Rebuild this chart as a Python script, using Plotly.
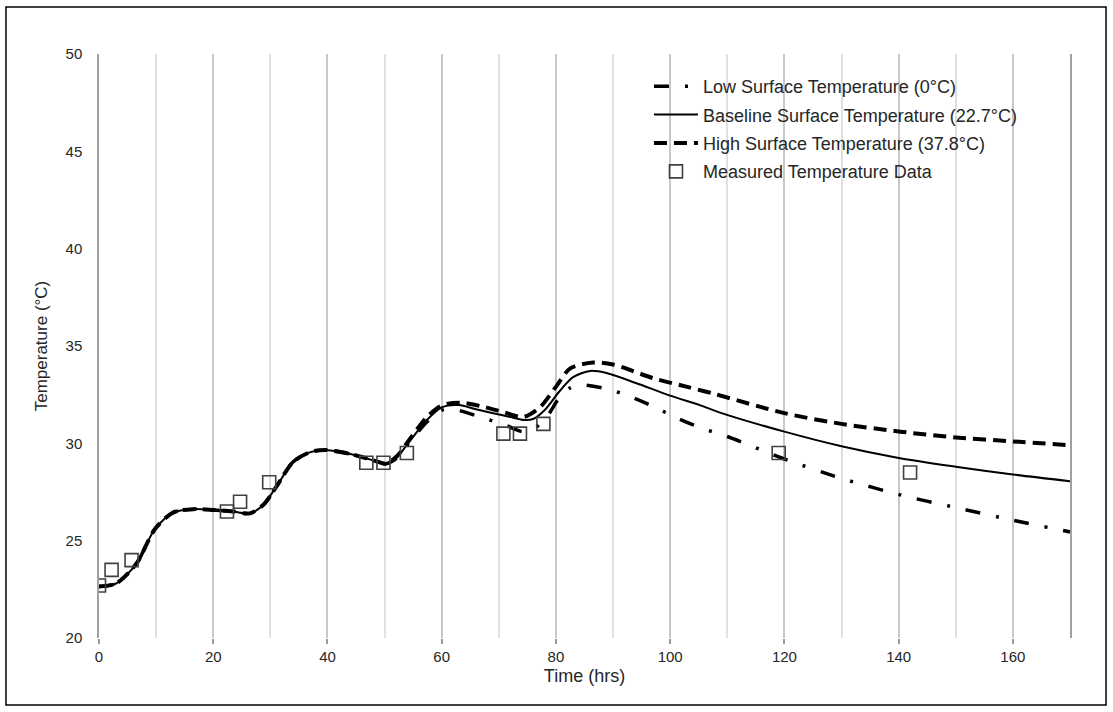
import plotly.graph_objects as go

# Simulated temperature histories (time in hrs, temperature in °C)
low_t = [0, 3, 6.5, 9.8, 13, 16.5, 20, 23.5, 26.4, 28.8, 31, 34, 37, 39.5, 43, 46, 48.5, 50.2,
         52.2, 54.5, 57.4, 60, 62, 67.3, 71.4, 74.3, 76.6, 78.5, 80.7, 82.5, 84.5, 88.9, 93, 97,
         101.2, 105.3, 110, 120.4, 130, 140.3, 150, 160, 170]
low_temp = [22.65, 22.8, 23.8, 25.6, 26.45, 26.62, 26.58, 26.5, 26.4, 26.85, 27.75, 29.05, 29.55,
            29.66, 29.52, 29.3, 29.08, 28.95, 29.25, 30.1, 31.1, 31.7, 31.75, 31.3, 30.9, 30.6,
            30.85, 31.4, 32.4, 32.85, 33.0, 32.8, 32.4, 31.9, 31.3, 30.8, 30.35, 29.15, 28.2,
            27.35, 26.7, 26.05, 25.45]

base_t = [0, 3, 6.5, 9.8, 13, 16.5, 20, 23.5, 26.4, 28.8, 31, 34, 37, 39.5, 43, 46, 48.5, 50.2,
          52.2, 54.5, 57.4, 60, 63, 66, 69, 72, 74.5, 76, 78, 80.7, 83, 86, 89, 94, 100, 105.3,
          109, 120, 130, 140, 150, 160, 170]
base_temp = [22.65, 22.8, 23.8, 25.6, 26.45, 26.62, 26.58, 26.5, 26.4, 26.85, 27.75, 29.05, 29.55,
             29.66, 29.52, 29.3, 29.08, 28.95, 29.3, 30.15, 31.2, 31.85, 31.97, 31.75, 31.55,
             31.35, 31.2, 31.25, 31.7, 32.7, 33.4, 33.72, 33.6, 33.1, 32.45, 31.95, 31.55, 30.6,
             29.85, 29.25, 28.8, 28.4, 28.05]

high_t = [0, 3, 6.5, 9.8, 13, 16.5, 20, 23.5, 26.4, 28.8, 31, 34, 37, 39.5, 43, 46, 48.5, 50.2,
          52.2, 54.5, 57.4, 60, 63.5, 67, 70.8, 74.3, 77.2, 80, 82.5, 86.5, 90, 97, 103, 107.6,
          120, 130, 140.3, 150, 160, 170]
high_temp = [22.65, 22.8, 23.8, 25.6, 26.45, 26.62, 26.58, 26.5, 26.4, 26.85, 27.75, 29.05, 29.55,
             29.66, 29.52, 29.3, 29.08, 28.95, 29.35, 30.25, 31.35, 31.95, 32.08, 31.9, 31.6,
             31.35, 31.85, 32.9, 33.85, 34.15, 34.05, 33.35, 32.9, 32.55, 31.55, 31.0, 30.6,
             30.3, 30.1, 29.9]

# Measured data
meas_t = [0, 2.2, 5.7, 22.4, 24.7, 29.8, 46.8, 49.8, 53.9, 70.8, 73.7, 77.8, 119, 142]
meas_temp = [22.7, 23.5, 24.0, 26.5, 27.0, 28.0, 29.0, 29.0, 29.5, 30.5, 30.5, 31.0, 29.5, 28.5]

FONT = "Liberation Sans, Arial, sans-serif"
TXT = "#262626"

fig = go.Figure()
fig.add_trace(go.Scatter(
    x=low_t, y=low_temp, mode="lines", name="Low Surface Temperature (0°C)",
    legendgroup="a",
    line=dict(color="black", width=3.5, dash="15px,16px,3px,16px", shape="spline", smoothing=0.8)))
fig.add_trace(go.Scatter(
    x=base_t, y=base_temp, mode="lines", name="Baseline Surface Temperature (22.7°C)",
    legendgroup="b",
    line=dict(color="black", width=2, shape="spline", smoothing=0.8)))
fig.add_trace(go.Scatter(
    x=high_t, y=high_temp, mode="lines", name="High Surface Temperature (37.8°C)",
    legendgroup="c",
    line=dict(color="black", width=4, dash="13px,7px", shape="spline", smoothing=0.8)))
fig.add_trace(go.Scatter(
    x=meas_t, y=meas_temp, mode="markers", name="Measured Temperature Data",
    legendgroup="d",
    marker=dict(symbol="square-open", size=13, color="#404040", line=dict(width=1.6, color="#404040"))))

fig.update_layout(
    width=1113, height=712,
    margin=dict(l=99, r=43, t=54, b=74),
    paper_bgcolor="white", plot_bgcolor="white",
    font=dict(family=FONT, size=15, color=TXT),
    showlegend=True,
    legend=dict(
        x=0.5664, y=0.976, xanchor="left", yanchor="top",
        bgcolor="rgba(0,0,0,0)", borderwidth=0,
        font=dict(family=FONT, size=18, color=TXT),
        itemwidth=44, tracegroupgap=2,
    ),
    shapes=[dict(type="rect", xref="paper", yref="paper",
                 x0=-0.0958, x1=1.0371, y0=-0.1147, y1=1.0805,
                 line=dict(color="black", width=1.5), fillcolor="rgba(0,0,0,0)", layer="below")],
)

fig.update_xaxes(
    range=[0, 170], tick0=0, dtick=20,
    showgrid=True, gridcolor="#c8c8c8", gridwidth=1.5,
    minor=dict(dtick=10, tick0=0, showgrid=True, gridcolor="#e0e0e0", gridwidth=1.5),
    ticks="outside", ticklen=5, tickcolor="#999999", tickwidth=1.5,
    showline=False, zeroline=False,
    tickfont=dict(family=FONT, size=15, color=TXT),
    title=dict(text="Time (hrs)", font=dict(family=FONT, size=18, color=TXT), standoff=5),
)
fig.update_yaxes(
    range=[20, 50], tick0=20, dtick=5,
    showgrid=False, zeroline=False,
    showline=True, mirror=True, linecolor="#a0a0a0", linewidth=1.5,
    ticks="", ticklabelstandoff=12,
    tickfont=dict(family=FONT, size=15, color=TXT),
    title=dict(text="Temperature (°C)", font=dict(family=FONT, size=17, color=TXT), standoff=14),
)

fig.write_html("out.html")
